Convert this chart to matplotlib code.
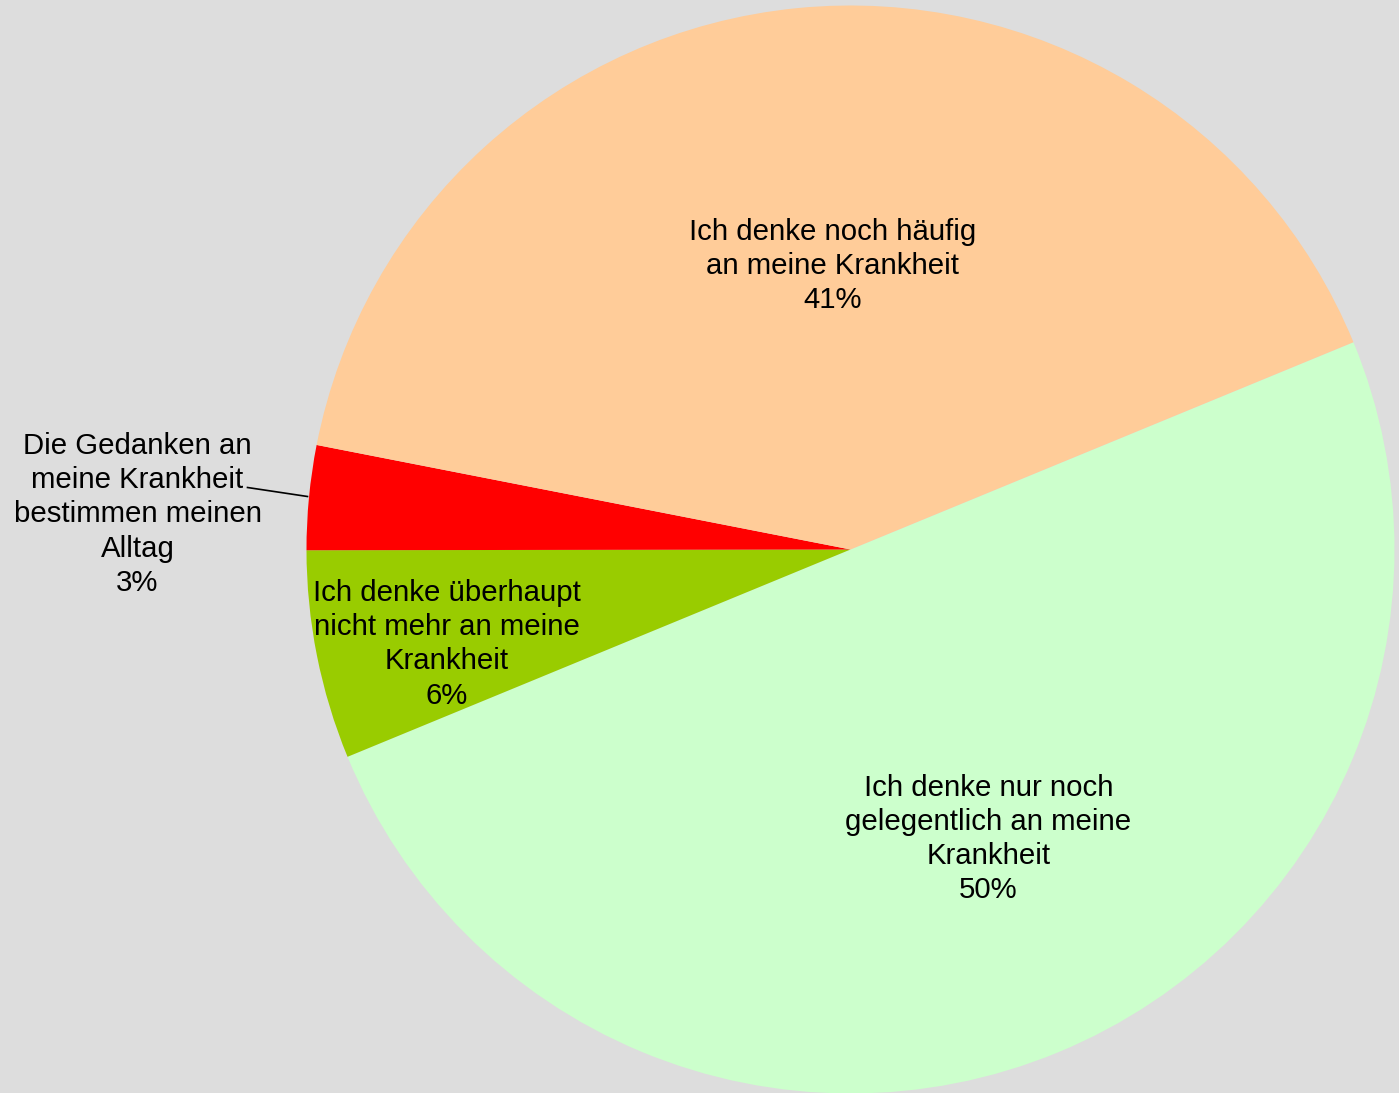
import numpy as np
import matplotlib
matplotlib.use("Agg")
import matplotlib.pyplot as plt

# Data (clockwise order starting at the right boundary)
categories = [
    "Ich denke nur noch\ngelegentlich an meine\nKrankheit",
    "Ich denke überhaupt\nnicht mehr an meine\nKrankheit",
    "Die Gedanken an\nmeine Krankheit\nbestimmen meinen\nAlltag",
    "Ich denke noch häufig\nan meine Krankheit",
]
values = [50.0, 6.2, 3.1, 40.7]
pct_labels = ["50%", "6%", "3%", "41%"]
colors = ["#CCFFCC", "#99CC00", "#FF0000", "#FFCC99"]

plt.rcParams['font.family'] = ['Liberation Sans', 'DejaVu Sans']

fig = plt.figure(figsize=(13.99, 10.93), dpi=100)
fig.patch.set_facecolor("#DDDDDD")
ax = fig.add_axes([0, 0, 1, 1])
ax.set_facecolor("#DDDDDD")

R = 544.0
cx, cy = 850.5, 549.5
W, H = 1399.0, 1093.0

wedges, _ = ax.pie(values, colors=colors, startangle=22.4, counterclock=False,
                   radius=1.0, center=(0, 0), frame=True,
                   wedgeprops=dict(linewidth=0))
ax.set_xlim(-cx / R, (W - cx) / R)
ax.set_ylim(-(H - cy) / R, cy / R)
ax.set_aspect("auto")
ax.axis("off")

# label radial distances and angle offsets (degrees), extra vertical shift (px)
dists = [0.585, 0.762, None, 0.522]
offsets = [3.3, 1.7, 0, -2.0]
shifts = [-3, -2, 0, 0]
fs = 21.2
ls = 1.28
for w, cat, pct, d, off, sh in zip(wedges, categories, pct_labels, dists, offsets, shifts):
    mid = np.deg2rad((w.theta1 + w.theta2) / 2 + off)
    txt = cat + "\n" + pct
    if d is None:
        # outside label with leader line
        tx, ty = -713 / R, 35 / R
        ax.text(tx, ty, txt, ha="center", va="center", fontsize=fs,
                linespacing=ls, color="black")
        ax.plot([-603 / R, -543 / R], [62 / R, 53 / R], color="black", lw=1.2)
    else:
        ax.text(d * np.cos(mid), d * np.sin(mid) + sh / R, txt, ha="center",
                va="center", fontsize=fs, linespacing=ls, color="black")

fig.savefig("out.png", dpi=100, facecolor=fig.get_facecolor())
